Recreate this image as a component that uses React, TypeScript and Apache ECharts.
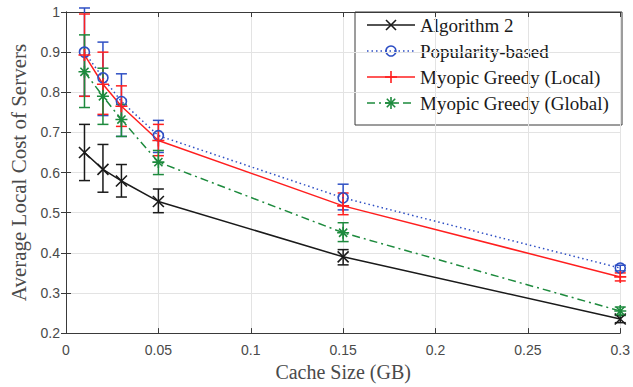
import React, { useEffect, useRef } from "react";
import * as echarts from "echarts";

const cacheSizes = [0.01, 0.02, 0.03, 0.05, 0.15, 0.3];
const seriesNames = [
  "Algorithm 2",
  "Popularity-based",
  "Myopic Greedy (Local)",
  "Myopic Greedy (Global)",
];
const alg2 = [0.65, 0.608, 0.579, 0.528, 0.39, 0.235];
const alg2Low = [0.58, 0.551, 0.539, 0.5, 0.37, 0.226];
const alg2High = [0.72, 0.67, 0.62, 0.559, 0.408, 0.244];
const popularity = [0.9, 0.836, 0.777, 0.692, 0.537, 0.362];
const popularityLow = [0.79, 0.742, 0.69, 0.65, 0.507, 0.355];
const popularityHigh = [1.01, 0.925, 0.846, 0.73, 0.571, 0.369];
const localGreedy = [0.893, 0.82, 0.765, 0.68, 0.517, 0.34];
const localGreedyLow = [0.79, 0.745, 0.715, 0.642, 0.495, 0.33];
const localGreedyHigh = [0.995, 0.9, 0.816, 0.72, 0.549, 0.35];
const globalGreedy = [0.851, 0.79, 0.732, 0.626, 0.45, 0.255];
const globalGreedyLow = [0.762, 0.72, 0.69, 0.595, 0.428, 0.245];
const globalGreedyHigh = [0.943, 0.86, 0.77, 0.655, 0.475, 0.265];

const xTicks = { min: 0, max: 0.3, interval: 0.05 };
const yTicks = { min: 0.2, max: 1, interval: 0.1 };

const COLORS = ["#1a1a1a", "#2e4fc4", "#ff1f1f", "#1d8a3d"];
const SYMBOLS = [
  "path://M0 0L10 10M10 0L0 10",
  "circle",
  "path://M5 0L5 10M0 5L10 5",
  "path://M5 0L5 10M0 5L10 5M1.6 1.6L8.4 8.4M8.4 1.6L1.6 8.4",
];
const SYMBOL_SIZES = [11, 10, 12, 12];
const LINE_TYPES: any[] = ["solid", [1.5, 3], "solid", [8, 4, 2, 4]];

const mainValues = [alg2, popularity, localGreedy, globalGreedy];
const lowValues = [alg2Low, popularityLow, localGreedyLow, globalGreedyLow];
const highValues = [alg2High, popularityHigh, localGreedyHigh, globalGreedyHigh];

function markerElements(i: number, cx: number, cy: number) {
  const st = { stroke: COLORS[i], lineWidth: 1.6, fill: "none" };
  const ln = (x1: number, y1: number, x2: number, y2: number) => ({
    type: "line",
    shape: { x1: cx + x1, y1: cy + y1, x2: cx + x2, y2: cy + y2 },
    style: st,
  });
  if (i === 0) return [ln(-5, -5, 5, 5), ln(5, -5, -5, 5)];
  if (i === 1) return [{ type: "circle", shape: { cx, cy, r: 5 }, style: st }];
  if (i === 2) return [ln(0, -6, 0, 6), ln(-6, 0, 6, 0)];
  return [ln(0, -6, 0, 6), ln(-6, 0, 6, 0), ln(-4.2, -4.2, 4.2, 4.2), ln(4.2, -4.2, -4.2, 4.2)];
}

export default function App() {
  const ref = useRef<HTMLDivElement>(null);
  useEffect(() => {
    if (!ref.current) return;
    const chart = echarts.init(ref.current, undefined, { renderer: "svg" });
    const axisColor = "#3a3a3a";
    const labelColor = "#4a4a4a";
    const serif = "Liberation Serif";
    const sans = "Liberation Sans";

    const lineSeries = seriesNames.map((name, i) => ({
      name,
      type: "line",
      data: cacheSizes.map((x, j) => [x, mainValues[i][j]]),
      symbol: SYMBOLS[i],
      symbolSize: SYMBOL_SIZES[i],
      showSymbol: true,
      color: COLORS[i],
      lineStyle: { color: COLORS[i], width: 1.5, type: LINE_TYPES[i] },
      itemStyle: {
        color: "rgba(0,0,0,0)",
        borderColor: COLORS[i],
        borderWidth: 1.6,
      },
      z: 3,
    }));

    const errSeries = seriesNames.map((name, i) => ({
      name: name + " error",
      type: "custom",
      data: cacheSizes.map((x, j) => [x, lowValues[i][j], highValues[i][j]]),
      renderItem: (params: any, api: any) => {
        const x = api.value(0);
        const lo = api.coord([x, api.value(1)]);
        const hi = api.coord([x, api.value(2)]);
        const w = 5.5;
        const style = { stroke: COLORS[i], lineWidth: 1.5 };
        return {
          type: "group",
          children: [
            { type: "line", shape: { x1: lo[0], y1: lo[1], x2: hi[0], y2: hi[1] }, style },
            { type: "line", shape: { x1: lo[0] - w, y1: lo[1], x2: lo[0] + w, y2: lo[1] }, style },
            { type: "line", shape: { x1: hi[0] - w, y1: hi[1], x2: hi[0] + w, y2: hi[1] }, style },
          ],
        };
      },
      z: 2,
      silent: true,
    }));

    const tickCommon = {
      show: true,
      inside: true,
      length: 5,
      lineStyle: { color: axisColor, width: 1 },
    };

    // Legend drawn with graphic elements
    const legendLeft = 355;
    const legendTop = 12;
    const legendRight = 622;
    const legendBottom = 125;
    const legendChildren: any[] = [
      {
        type: "rect",
        shape: { x: legendLeft, y: legendTop, width: legendRight - legendLeft, height: legendBottom - legendTop },
        style: { fill: "#ffffff", stroke: axisColor, lineWidth: 1 },
      },
    ];
    seriesNames.forEach((name, i) => {
      const cy = 25 + i * 26;
      const lt = LINE_TYPES[i];
      legendChildren.push({
        type: "line",
        shape: { x1: 367, y1: cy, x2: 415, y2: cy },
        style: {
          stroke: COLORS[i],
          lineWidth: 1.5,
          lineDash: Array.isArray(lt) ? lt : null,
        },
      });
      legendChildren.push(...markerElements(i, 391, cy));
      legendChildren.push({
        type: "text",
        x: 420,
        y: cy,
        style: {
          text: name,
          fontFamily: serif,
          fontSize: 19,
          fill: "#1a1a1a",
          verticalAlign: "middle",
          align: "left",
        },
      });
    });

    chart.setOption({
      animation: false,
      textStyle: { fontFamily: serif },
      grid: { left: 60, right: 11, top: 12, bottom: 52 },
      graphic: [{ type: "group", z: 100, children: legendChildren }],
      xAxis: [
        {
          type: "value",
          position: "bottom",
          ...xTicks,
          name: "Cache Size (GB)",
          nameLocation: "middle",
          nameGap: 28,
          nameTextStyle: { fontFamily: serif, fontSize: 20, color: "#4a4a4a" },
          axisLine: { show: true, lineStyle: { color: axisColor, width: 1 } },
          axisTick: tickCommon,
          axisLabel: {
            fontFamily: sans,
            fontSize: 14,
            color: labelColor,
            margin: 10,
          },
          splitLine: { show: true, lineStyle: { color: "#e3e3e3", width: 1 } },
        },
        {
          type: "value",
          position: "top",
          ...xTicks,
          axisLine: { show: true, lineStyle: { color: axisColor, width: 1 } },
          axisTick: tickCommon,
          axisLabel: { show: false },
          splitLine: { show: false },
        },
      ],
      yAxis: [
        {
          type: "value",
          position: "left",
          ...yTicks,
          name: "Average Local Cost of Servers",
          nameLocation: "middle",
          nameGap: 37,
          nameTextStyle: { fontFamily: serif, fontSize: 21, color: "#4a4a4a" },
          axisLine: { show: true, lineStyle: { color: axisColor, width: 1 } },
          axisTick: tickCommon,
          axisLabel: {
            fontFamily: sans,
            fontSize: 14,
            color: labelColor,
            margin: 6,
          },
          splitLine: { show: true, lineStyle: { color: "#e3e3e3", width: 1 } },
        },
        {
          type: "value",
          position: "right",
          ...yTicks,
          axisLine: { show: true, lineStyle: { color: axisColor, width: 1 } },
          axisTick: tickCommon,
          axisLabel: { show: false },
          splitLine: { show: false },
        },
      ],
      series: [...errSeries, ...lineSeries],
    });
    return () => chart.dispose();
  }, []);
  return <div ref={ref} style={{ width: 633, height: 387, position: "absolute", left: 0, top: 0 }} />;
}
